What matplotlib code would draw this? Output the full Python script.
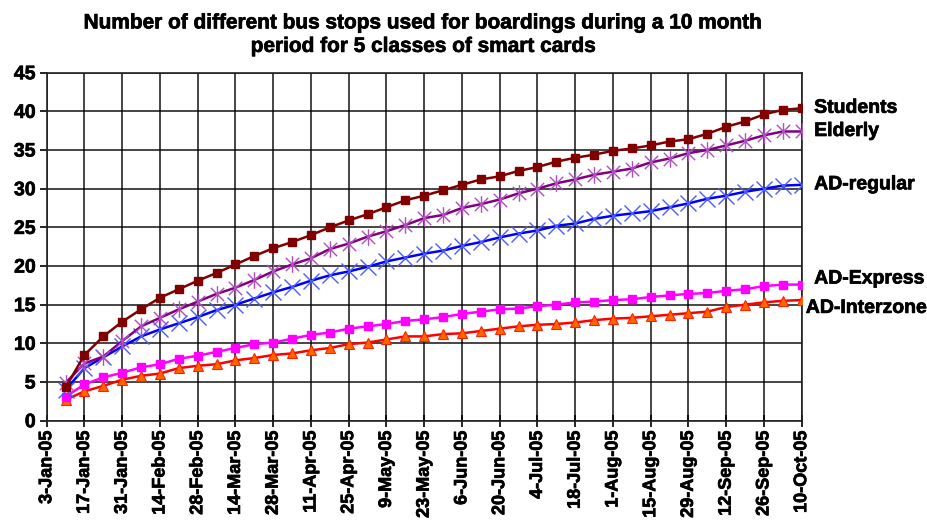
import matplotlib
matplotlib.use("Agg")
import matplotlib.pyplot as plt
import matplotlib.patheffects as pe
from matplotlib.path import Path
import pandas as pd

plt.rcParams['font.family'] = ['Liberation Sans', 'DejaVu Sans']
plt.rcParams['font.weight'] = 'bold'

# Weekly observation dates
dates = pd.date_range('2005-01-10', periods=40, freq='7D')

students = [4.3, 8.5, 10.9, 12.8, 14.4, 15.9, 17.0, 18.1, 19.1, 20.2,
            21.3, 22.3, 23.1, 24.0, 25.0, 25.9, 26.7, 27.6, 28.5, 29.1,
            29.8, 30.5, 31.2, 31.6, 32.3, 32.8, 33.5, 34.0, 34.4, 34.9,
            35.2, 35.6, 36.1, 36.4, 37.1, 38.0, 38.7, 39.6, 40.2, 40.4]
elderly = [4.9, 7.4, 8.3, 10.3, 12.2, 13.3, 14.4, 15.4, 16.4, 17.2,
           18.2, 19.3, 20.2, 21.0, 22.2, 22.9, 23.8, 24.5, 25.3, 26.2,
           26.6, 27.5, 28.0, 28.6, 29.4, 30.0, 30.7, 31.2, 31.8, 32.2,
           32.6, 33.4, 33.9, 34.6, 35.0, 35.6, 36.2, 36.9, 37.4, 37.4]
ad_regular = [4.0, 6.8, 8.2, 9.6, 10.9, 11.8, 12.6, 13.4, 14.3, 15.0,
              15.8, 16.6, 17.3, 18.1, 18.8, 19.3, 19.9, 20.6, 21.1, 21.6,
              22.0, 22.6, 23.1, 23.7, 24.2, 24.6, 25.2, 25.5, 26.1, 26.5,
              26.8, 27.1, 27.6, 28.1, 28.7, 29.1, 29.6, 30.0, 30.4, 30.5]
ad_express = [3.1, 4.7, 5.6, 6.2, 6.9, 7.3, 8.0, 8.4, 8.9, 9.4,
              9.9, 10.1, 10.6, 11.1, 11.4, 11.9, 12.2, 12.5, 12.9, 13.1,
              13.4, 13.8, 14.1, 14.4, 14.5, 14.8, 15.0, 15.3, 15.4, 15.6,
              15.7, 16.0, 16.2, 16.4, 16.5, 16.8, 17.0, 17.4, 17.6, 17.6]
ad_interzone = [2.7, 3.8, 4.5, 5.3, 5.8, 6.1, 6.8, 7.1, 7.3, 7.8,
                8.1, 8.5, 8.7, 9.1, 9.4, 9.9, 10.1, 10.5, 10.9, 10.9,
                11.2, 11.3, 11.6, 11.9, 12.2, 12.4, 12.5, 12.7, 13.0, 13.2,
                13.3, 13.5, 13.7, 13.9, 14.1, 14.7, 15.0, 15.3, 15.5, 15.6]

tick_dates = pd.date_range('2005-01-03', '2005-10-10', freq='14D')
tick_labels = ['3-Jan-05', '17-Jan-05', '31-Jan-05', '14-Feb-05', '28-Feb-05',
               '14-Mar-05', '28-Mar-05', '11-Apr-05', '25-Apr-05', '9-May-05',
               '23-May-05', '6-Jun-05', '20-Jun-05', '4-Jul-05', '18-Jul-05',
               '1-Aug-05', '15-Aug-05', '29-Aug-05', '12-Sep-05', '26-Sep-05',
               '10-Oct-05']

series_names = ['Students', 'Elderly', 'AD-regular', 'AD-Express', 'AD-Interzone']

# Spreadsheet-style asterisk: an "x" crossed by a vertical stroke
asterisk = Path([(-1, -1), (1, 1), (-1, 1), (1, -1), (0, -1.25), (0, 1.25)],
                [Path.MOVETO, Path.LINETO, Path.MOVETO, Path.LINETO,
                 Path.MOVETO, Path.LINETO])

fig = plt.figure(figsize=(9.27, 5.25), dpi=100)
ax = fig.add_axes([0.0504, 0.1987, 0.8144, 0.6628])

lw = 1.8
ax.plot(dates, ad_interzone, color='#FF0000', lw=lw, marker='^', ms=6.5,
        mfc='#FF6600', mec='#FF2000', mew=0.8, zorder=3)
ax.plot(dates, ad_express, color='#FF00FF', lw=lw, marker='s', ms=6,
        mfc='#FF00FF', mec='#FF00FF', zorder=3)
ax.plot(dates, ad_regular, color='#0000FF', lw=lw, marker='x', ms=11,
        mec='#4A5CFF', mew=1.0, zorder=3)
ax.plot(dates, elderly, color='#800080', lw=lw, marker=asterisk, ms=12,
        mec='#B050C0', mew=1.0, zorder=3)
ax.plot(dates, students, color='#800000', lw=lw, marker='s', ms=6,
        mfc='#800000', mec='#800000', zorder=4)

ax.set_xlim(tick_dates[0], tick_dates[-1])
ax.set_ylim(0, 45)
ax.set_yticks(range(0, 46, 5))
ax.set_xticks(tick_dates)
ax.set_xticklabels(tick_labels, rotation=90, fontsize=13, fontweight='bold')
for lab in ax.get_yticklabels():
    lab.set_fontsize(14)
    lab.set_fontweight('bold')

ax.grid(True, color='#000000', lw=1.2, alpha=0.85)
ax.set_axisbelow(True)
for s in ax.spines.values():
    s.set_color('#222222')
    s.set_linewidth(1.2)
ax.tick_params(axis='x', direction='inout', length=8, width=1.2, pad=3)
ax.tick_params(axis='y', direction='out', length=5, width=1.2, pad=3)

heavy = [pe.withStroke(linewidth=0.5, foreground='black')]
for lab in ax.get_xticklabels() + ax.get_yticklabels():
    lab.set_path_effects(heavy)

# Series names at the right end of each line
label_offsets = [(9, 0), (9, 0), (9, 0), (9, 4), (3, -6)]
finals = [students, elderly, ad_regular, ad_express, ad_interzone]
for name, vals, (dx, dy) in zip(series_names, finals, label_offsets):
    ax.annotate(name, xy=(dates[-1], vals[-1]), xytext=(dx, dy),
                textcoords='offset points', ha='left', va='center',
                fontsize=14, fontweight='bold', annotation_clip=False,
                path_effects=heavy)

fig.text(0.4574, 0.934,
         'Number of different bus stops used for boardings during a 10 month\n'
         'period for 5 classes of smart cards',
         ha='center', va='center', fontsize=15, fontweight='bold',
         linespacing=1.3, path_effects=heavy)

fig.savefig('out.png', dpi=100)
